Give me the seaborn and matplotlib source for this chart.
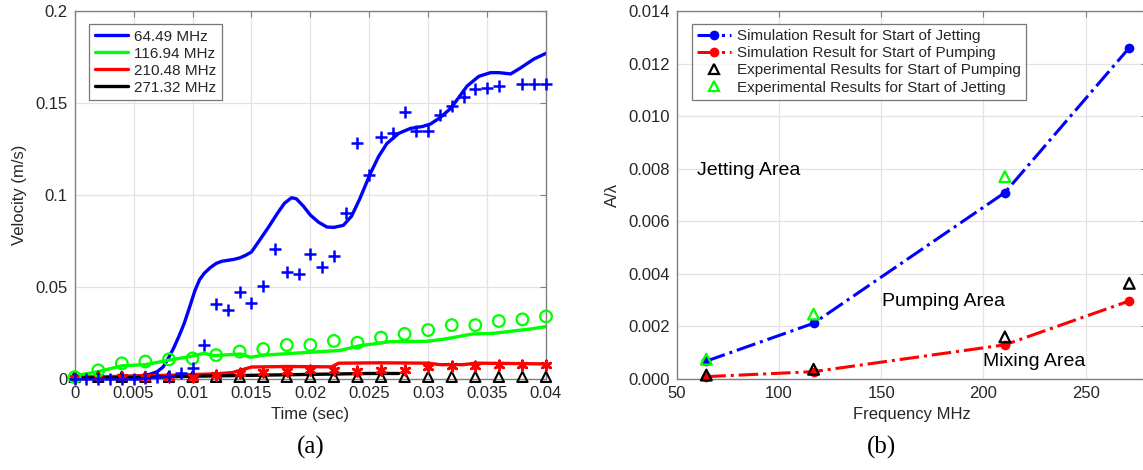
import numpy as np
import pandas as pd
import matplotlib
matplotlib.use("Agg")
import matplotlib.pyplot as plt
import seaborn as sns
from matplotlib.lines import Line2D

# ---------------- data : panel (a) ----------------
blue_t = [0, 0.002, 0.004, 0.005, 0.006, 0.0065, 0.007, 0.0075, 0.0079, 0.0084, 0.0089,
          0.0093, 0.0098, 0.0102, 0.0106, 0.011, 0.0115, 0.012, 0.0125, 0.013, 0.0135,
          0.014, 0.0145, 0.015, 0.0157, 0.0165, 0.0172, 0.0178, 0.0184, 0.0188, 0.0194,
          0.020, 0.0207, 0.0214, 0.022, 0.0228, 0.0235, 0.0242, 0.0251, 0.0258, 0.0265,
          0.0275, 0.0285, 0.0295, 0.0302, 0.031, 0.0319, 0.0326, 0.0333, 0.0343, 0.0353,
          0.036, 0.037, 0.0378, 0.039, 0.040]
blue_v = [0.001, 0.001, 0.0013, 0.0015, 0.002, 0.0028, 0.004, 0.0065, 0.0107, 0.0168, 0.024,
          0.0303, 0.040, 0.048, 0.054, 0.0575, 0.0605, 0.0628, 0.064, 0.0645, 0.065,
          0.0658, 0.0672, 0.069, 0.0755, 0.083, 0.090, 0.0955, 0.0985, 0.098, 0.094,
          0.0891, 0.0852, 0.0826, 0.0824, 0.0835, 0.0885, 0.098, 0.1118, 0.121, 0.128,
          0.1335, 0.1362, 0.1372, 0.1386, 0.142, 0.147, 0.153, 0.1592, 0.1645, 0.1665,
          0.1665, 0.1658, 0.1689, 0.174, 0.177]

blue_mt = [0, 0.001, 0.002, 0.003, 0.004, 0.005, 0.006, 0.007, 0.008, 0.009, 0.010, 0.011,
           0.012, 0.013, 0.014, 0.015, 0.016, 0.017, 0.018, 0.019, 0.020, 0.021, 0.022,
           0.023, 0.024, 0.025, 0.026, 0.027, 0.028, 0.029, 0.030, 0.031, 0.032, 0.033,
           0.034, 0.035, 0.036, 0.038, 0.039, 0.040]
blue_mv = [0, 0, 0, 0, 0, 0, 0.0003, 0.001, 0.0018, 0.0033, 0.006, 0.0185,
           0.0406, 0.0375, 0.0475, 0.0415, 0.0505, 0.0707, 0.0583, 0.0571, 0.0679, 0.061, 0.067,
           0.0904, 0.1284, 0.111, 0.1313, 0.1339, 0.1453, 0.135, 0.1348, 0.1435, 0.1484, 0.1531,
           0.1574, 0.1583, 0.1592, 0.1603, 0.1605, 0.1605]

green_t = [0, 0.002, 0.004, 0.006, 0.0082, 0.0098, 0.011, 0.0118, 0.0141, 0.0149, 0.0161,
           0.0186, 0.0225, 0.0242, 0.0268, 0.0299, 0.0313, 0.0338, 0.0355, 0.0387, 0.040]
green_v = [0.0018, 0.004, 0.0072, 0.0078, 0.0105, 0.0122, 0.014, 0.0127, 0.0136, 0.0118, 0.013,
           0.014, 0.0155, 0.0181, 0.0203, 0.0205, 0.0216, 0.0245, 0.0248, 0.0272, 0.0285]

mark_t = [0, 0.002, 0.004, 0.006, 0.008, 0.010, 0.012, 0.014, 0.016, 0.018, 0.020,
          0.022, 0.024, 0.026, 0.028, 0.030, 0.032, 0.034, 0.036, 0.038, 0.040]
green_mv = [0.001, 0.0047, 0.0085, 0.0095, 0.0107, 0.0112, 0.013, 0.0149, 0.0163, 0.0185, 0.0185,
            0.0207, 0.0197, 0.0225, 0.0245, 0.0266, 0.0293, 0.0293, 0.0315, 0.0324, 0.034]

red_t = [0, 0.004, 0.008, 0.012, 0.0134, 0.015, 0.018, 0.0218, 0.0224, 0.026, 0.030,
         0.031, 0.033, 0.034, 0.036, 0.040]
red_v = [0.0008, 0.0015, 0.002, 0.0028, 0.0035, 0.0065, 0.0068, 0.0066, 0.0086, 0.0088, 0.0086,
         0.0078, 0.0078, 0.0086, 0.0085, 0.0082]
red_mv = [0.0005, 0.001, 0.001, 0.001, 0.001, 0.0012, 0.002, 0.003, 0.004, 0.0045, 0.005,
          0.005, 0.0045, 0.005, 0.005, 0.0066, 0.007, 0.0072, 0.0077, 0.0077, 0.0077]

black_t = [0, 0.005, 0.010, 0.015, 0.020, 0.025, 0.0275]
black_v = [0.0005, 0.0008, 0.0015, 0.002, 0.0025, 0.003, 0.003]
black_mv = [0.0012] * 21

freq_labels = ["64.49 MHz", "116.94 MHz", "210.48 MHz", "271.32 MHz"]
xticks_a = [0, 0.005, 0.01, 0.015, 0.02, 0.025, 0.03, 0.035, 0.04]
xticklabels_a = ["0", "0.005", "0.01", "0.015", "0.02", "0.025", "0.03", "0.035", "0.04"]
yticks_a = [0, 0.05, 0.1, 0.15, 0.2]
yticklabels_a = ["0", "0.05", "0.1", "0.15", "0.2"]

# ---------------- data : panel (b) ----------------
freq = [64.49, 116.94, 210.48, 271.32]
sim_jet = [0.00068, 0.00212, 0.00709, 0.0126]
sim_pump = [0.00009, 0.00028, 0.0013, 0.00297]
exp_pump = [0.00015, 0.00037, 0.0016, 0.00364]
exp_jet_f = [64.49, 116.94, 210.48]
exp_jet = [0.00075, 0.00247, 0.0077]
yticks_b = [0, 0.002, 0.004, 0.006, 0.008, 0.010, 0.012, 0.014]
yticklabels_b = ["0.000", "0.002", "0.004", "0.006", "0.008", "0.010", "0.012", "0.014"]
xticks_b = [50, 100, 150, 200, 250]
legend_b = ["Simulation Result for Start of Jetting", "Simulation Result for Start of Pumping",
            "Experimental Results for Start of Pumping", "Experimental Results for Start of Jetting"]

# ---------------- style ----------------
sns.set_theme(style="whitegrid")
plt.rcParams["font.family"] = ["Liberation Sans", "DejaVu Sans"]

SPINE = "#808080"
TXT = "#262626"
GRID = "#e3e3e3"
BLUE, GREEN, RED, BLACK = "#0000ff", "#00ff00", "#ff0000", "#000000"

W, H = 1143, 470
fig = plt.figure(figsize=(W / 100, H / 100), dpi=100)
fig.patch.set_facecolor("white")
ax1 = fig.add_axes([74.7 / W, (H - 379) / H, (546 - 74.7) / W, (379 - 11) / H])
ax2 = fig.add_axes([676.7 / W, (H - 379) / H, (1147 - 676.7) / W, (379 - 11) / H])

def style_axes(ax):
    ax.set_facecolor("white")
    for s in ax.spines.values():
        s.set_color(SPINE)
        s.set_linewidth(1.0)
        s.set_visible(True)
    ax.grid(True, color=GRID, linewidth=0.9)
    ax.tick_params(direction="in", top=True, right=True, length=4, width=0.8,
                   color=SPINE, labelcolor=TXT, labelsize=12, pad=5)
    ax.set_axisbelow(True)

# ---------------- panel (a) ----------------
sns.lineplot(x=blue_t, y=blue_v, ax=ax1, color=BLUE, linewidth=2.4, sort=False)
sns.lineplot(x=green_t, y=green_v, ax=ax1, color=GREEN, linewidth=2.4, sort=False)
sns.lineplot(x=red_t, y=red_v, ax=ax1, color=RED, linewidth=2.4, sort=False)
sns.lineplot(x=black_t, y=black_v, ax=ax1, color=BLACK, linewidth=2.4, sort=False)

sns.scatterplot(x=mark_t, y=black_mv, ax=ax1, marker="^", s=55, facecolors="none",
                edgecolor=BLACK, linewidth=1.5, zorder=3, clip_on=False)
sns.scatterplot(x=mark_t, y=red_mv, ax=ax1, marker=(6, 2, 0), s=45, color=RED,
                linewidth=2.0, zorder=4, clip_on=False)
sns.scatterplot(x=mark_t, y=green_mv, ax=ax1, marker="o", s=70, facecolors="none",
                edgecolor=GREEN, linewidth=1.6, zorder=4, clip_on=False)
sns.scatterplot(x=blue_mt, y=blue_mv, ax=ax1, marker="+", s=70, color=BLUE,
                linewidth=1.8, zorder=5, clip_on=False)

style_axes(ax1)
ax1.set_xlim(0, 0.04)
ax1.set_ylim(0, 0.2)
ax1.set_xticks(xticks_a)
ax1.set_xticklabels(xticklabels_a)
ax1.set_yticks(yticks_a)
ax1.set_yticklabels(yticklabels_a)
ax1.set_xlabel("Time (sec)", fontsize=12, color=TXT, labelpad=4)
ax1.set_ylabel("Velocity (m/s)", fontsize=12, color=TXT, labelpad=6)

handles_a = [Line2D([], [], color=c, linewidth=2.4) for c in (BLUE, GREEN, RED, BLACK)]
leg1 = ax1.legend(handles_a, freq_labels, loc="upper left", bbox_to_anchor=(0.031, 0.964),
                  borderaxespad=0, fontsize=11, frameon=True, fancybox=False,
                  handlelength=2.2, handletextpad=0.4, labelspacing=0.2,
                  borderpad=0.35)
leg1.get_frame().set_edgecolor("#555555")
leg1.get_frame().set_linewidth(0.9)
for t in leg1.get_texts():
    t.set_color(TXT)

# ---------------- panel (b) ----------------
sns.lineplot(x=freq, y=sim_jet, ax=ax2, color=BLUE, linewidth=2.2, linestyle="-.",
             marker="o", markersize=7, markeredgewidth=0, zorder=3, clip_on=False)
sns.lineplot(x=freq, y=sim_pump, ax=ax2, color=RED, linewidth=2.2, linestyle="-.",
             marker="o", markersize=7, markeredgewidth=0, zorder=3, clip_on=False)
sns.scatterplot(x=freq, y=exp_pump, ax=ax2, marker="^", s=60, facecolors="none",
                edgecolor=BLACK, linewidth=1.6, zorder=4, clip_on=False)
sns.scatterplot(x=exp_jet_f, y=exp_jet, ax=ax2, marker="^", s=60, facecolors="none",
                edgecolor=GREEN, linewidth=1.6, zorder=4, clip_on=False)

style_axes(ax2)
ax2.set_xlim(50, 280)
ax2.set_ylim(0, 0.014)
ax2.set_xticks(xticks_b)
ax2.set_yticks(yticks_b)
ax2.set_yticklabels(yticklabels_b)
ax2.set_xlabel("Frequency MHz", fontsize=12, color=TXT, labelpad=4)
ax2.set_ylabel("A/\u03bb", fontsize=12, color=TXT, labelpad=6)

ax2.text(60, 0.00795, "Jetting Area", fontsize=14, color="black", va="center", ha="left")
ax2.text(150.3, 0.00294, "Pumping Area", fontsize=14, color="black", va="center", ha="left")
ax2.text(200, 0.00066, "Mixing Area", fontsize=14, color="black", va="center", ha="left")

handles_b = [
    Line2D([], [], color=BLUE, linewidth=2.2, linestyle="-.", marker="o", markersize=7, markeredgewidth=0),
    Line2D([], [], color=RED, linewidth=2.2, linestyle="-.", marker="o", markersize=7, markeredgewidth=0),
    Line2D([], [], color="none", marker="^", markersize=7, markerfacecolor="none",
           markeredgecolor=BLACK, markeredgewidth=1.6),
    Line2D([], [], color="none", marker="^", markersize=7, markerfacecolor="none",
           markeredgecolor=GREEN, markeredgewidth=1.6),
]
leg2 = ax2.legend(handles_b, legend_b, loc="upper left", bbox_to_anchor=(0.032, 0.9647),
                  borderaxespad=0, fontsize=11, frameon=True, fancybox=False,
                  handlelength=2.2, handletextpad=0.4, labelspacing=0.2, borderpad=0.35)
leg2.get_frame().set_edgecolor("#555555")
leg2.get_frame().set_linewidth(0.9)
for t in leg2.get_texts():
    t.set_color(TXT)

# ---------------- captions ----------------
fig.text((74.7 + 546) / 2 / W, 0.048, "(a)", fontsize=18, family="Liberation Serif",
         ha="center", va="center", color="black")
fig.text(882 / W, 0.048, "(b)", fontsize=18, family="Liberation Serif",
         ha="center", va="center", color="black")

fig.savefig("out.png", dpi=100, facecolor="white")
